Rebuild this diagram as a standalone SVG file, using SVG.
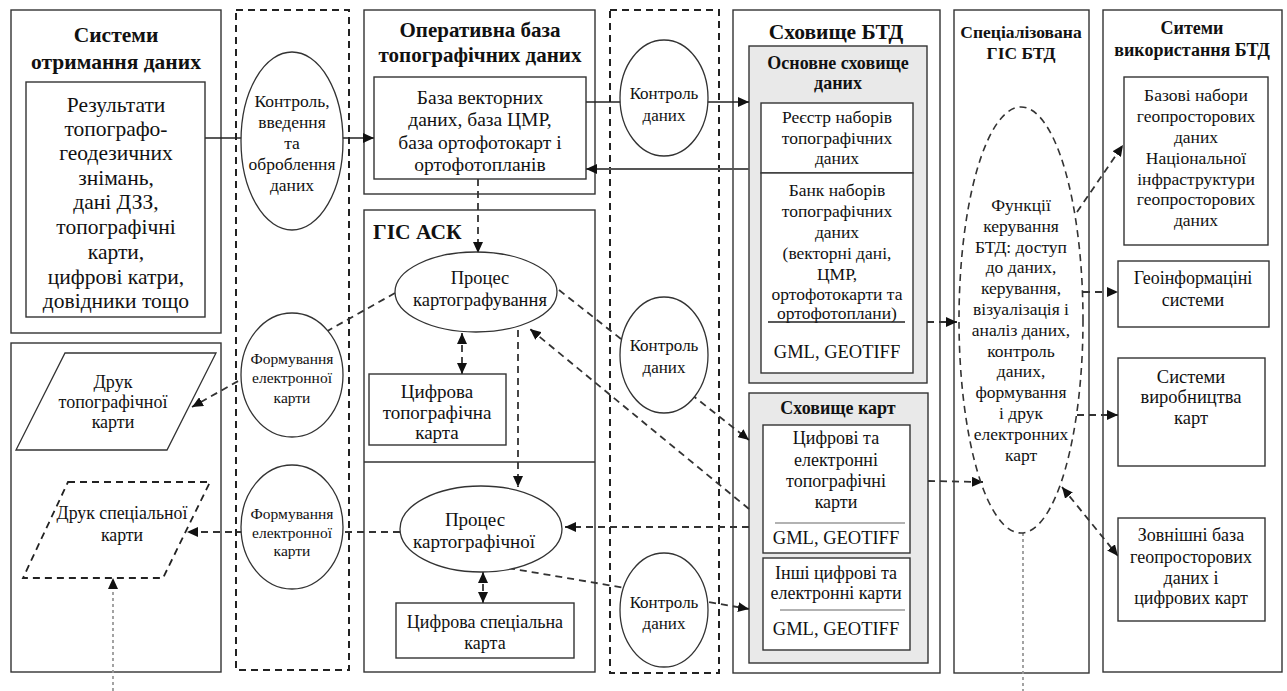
<svg xmlns="http://www.w3.org/2000/svg" width="1287" height="691" viewBox="0 0 1287 691" font-family="Liberation Serif, Times New Roman, DejaVu Serif, serif">
<defs>
<marker id="ah" markerUnits="userSpaceOnUse" markerWidth="11" markerHeight="10" refX="11" refY="5" orient="auto-start-reverse" viewBox="0 0 11 10"><path d="M0,0 L11,5 L0,10 z" fill="#111"/></marker>
<style>
text{fill:#111;text-anchor:middle;dominant-baseline:central}
.t{font-weight:bold}
.box{fill:#fff;stroke:#333;stroke-width:1.4}
.gray{fill:#e9e9e9;stroke:#333;stroke-width:1.4}
.col{fill:none;stroke:#222;stroke-width:2;stroke-dasharray:7,5}
.ell{fill:#fff;stroke:#333;stroke-width:1.3}
.s{stroke:#222;stroke-width:1.5;fill:none}
.sg{stroke:#555;stroke-width:2;fill:none}
.d{stroke:#333;stroke-width:1.8;fill:none;stroke-dasharray:7,5}
.dot{stroke:#999;stroke-width:1.8;fill:none;stroke-dasharray:3,3}
</style>
</defs>
<rect width="1287" height="691" fill="#fff"/>

<g id="containers">
<rect id="sys-acq" class="box" x="11" y="10" width="210" height="323"/>
<rect id="col1" class="col" x="236" y="10" width="113" height="660"/>
<rect id="oper-db" class="box" x="364" y="10" width="231" height="184"/>
<rect id="gis-ask" class="box" x="364" y="210" width="231" height="462"/>
<line x1="364" y1="462" x2="595" y2="462" stroke="#333" stroke-width="1.4"/>
<rect id="col2" class="col" x="610" y="10" width="109" height="663"/>
<rect id="storage-btd" class="box" x="733" y="10" width="207" height="663"/>
<rect id="main-storage" class="gray" x="749" y="46" width="178" height="337"/>
<rect id="map-storage" class="gray" x="749" y="393" width="179" height="270"/>
<rect id="spec-gis" class="box" x="954" y="10" width="135" height="663"/>
<rect id="usage-sys" class="box" x="1103" y="10" width="179" height="662"/>
<rect id="output-box" class="box" x="11" y="343" width="210" height="329"/>
</g>

<g id="connectors">
<line class="s" x1="205" y1="138" x2="374" y2="138" marker-end="url(#ah)"/>
<line class="s" x1="586" y1="102" x2="749" y2="102" marker-end="url(#ah)"/>
<line class="sg" x1="749" y1="169" x2="586" y2="169" marker-end="url(#ah)"/>
<line class="d" x1="478" y1="179" x2="478" y2="253" marker-end="url(#ah)"/>
<line class="d" x1="462" y1="333" x2="462" y2="374" marker-start="url(#ah)" marker-end="url(#ah)"/>
<line class="d" x1="518" y1="330" x2="518" y2="487" marker-end="url(#ah)"/>
<line class="d" x1="395" y1="293" x2="192" y2="407" marker-end="url(#ah)"/>
<line class="d" x1="559" y1="290" x2="749" y2="440" marker-end="url(#ah)"/>
<line class="d" x1="749" y1="509" x2="530" y2="329" marker-end="url(#ah)"/>
<line class="d" x1="749" y1="527" x2="565" y2="527" marker-end="url(#ah)"/>
<line class="d" x1="400" y1="532" x2="187" y2="532" marker-end="url(#ah)"/>
<line class="d" x1="483" y1="572" x2="483" y2="603" marker-start="url(#ah)" marker-end="url(#ah)"/>
<line class="d" x1="508" y1="568" x2="749" y2="609" marker-end="url(#ah)"/>
<line class="d" x1="927" y1="322" x2="957" y2="322" marker-end="url(#ah)"/>
<line class="d" x1="928" y1="481" x2="983" y2="482" marker-end="url(#ah)"/>
<line class="d" x1="1077" y1="212" x2="1123" y2="145" marker-end="url(#ah)"/>
<line class="d" x1="1083" y1="292" x2="1118" y2="292" marker-end="url(#ah)"/>
<line class="d" x1="1077" y1="415" x2="1118" y2="415" marker-end="url(#ah)"/>
<line class="d" x1="1062" y1="487" x2="1118" y2="556" marker-start="url(#ah)" marker-end="url(#ah)"/>
<line class="dot" x1="1023" y1="533" x2="1023" y2="691"/>
<line class="dot" x1="113" y1="691" x2="113" y2="578" marker-end="url(#ah)"/>
</g>

<g id="n-sys-title">
<text class="t" x="116" y="35" font-size="21.5">Системи</text>
<text class="t" x="116" y="62" font-size="21.5">отримання даних</text>
</g>
<g id="n-results">
<rect class="box" x="26" y="82" width="179" height="235"/>
<text x="116" y="105" font-size="21.5">Результати</text>
<text x="116" y="129" font-size="21.5">топографо-</text>
<text x="116" y="153" font-size="21.5">геодезичних</text>
<text x="116" y="178" font-size="21.5">знімань,</text>
<text x="116" y="202" font-size="21.5">дані ДЗЗ,</text>
<text x="116" y="227" font-size="21.5">топографічні</text>
<text x="116" y="252" font-size="21.5">карти,</text>
<text x="116" y="277" font-size="21.5">цифрові катри,</text>
<text x="116" y="301" font-size="21.5">довідники тощо</text>
</g>
<g id="n-control-input">
<ellipse class="ell" cx="292" cy="141" rx="51" ry="89"/>
<text x="292" y="101" font-size="17.5">Контроль,</text>
<text x="292" y="122" font-size="17.5">введення</text>
<text x="292" y="143" font-size="17.5">та</text>
<text x="292" y="164" font-size="17.5">оброблення</text>
<text x="292" y="185" font-size="17.5">даних</text>
</g>
<g id="n-oper-title">
<text class="t" x="480" y="30" font-size="21">Оперативна база</text>
<text class="t" x="480" y="55" font-size="21">топографічних даних</text>
</g>
<g id="n-vector-db">
<rect class="box" x="374" y="77" width="212" height="102"/>
<text x="480" y="97" font-size="19.5">База векторних</text>
<text x="480" y="119" font-size="19.5">даних, база ЦМР,</text>
<text x="480" y="142" font-size="19.5">база ортофотокарт і</text>
<text x="480" y="164" font-size="19.5">ортофотопланів</text>
</g>
<g id="n-control1">
<ellipse class="ell" cx="664" cy="98" rx="44" ry="58"/>
<text x="664" y="93" font-size="17">Контроль</text>
<text x="664" y="115" font-size="17">даних</text>
</g>
<g id="n-control2">
<ellipse class="ell" cx="664" cy="355" rx="44" ry="58"/>
<text x="664" y="345" font-size="17">Контроль</text>
<text x="664" y="367" font-size="17">даних</text>
</g>
<g id="n-control3">
<ellipse class="ell" cx="664" cy="610" rx="44" ry="57"/>
<text x="664" y="602" font-size="17">Контроль</text>
<text x="664" y="623" font-size="17">даних</text>
</g>
<g id="n-gis-ask-title">
<text class="t" x="373" y="232" font-size="21.5" style="text-anchor:start">ГІС АСК</text>
</g>
<g id="n-mapping">
<ellipse class="ell" cx="476" cy="292" rx="81" ry="40"/>
<text x="480" y="278" font-size="18.5">Процес</text>
<text x="480" y="300" font-size="18.5">картографування</text>
</g>
<g id="n-digital-topo">
<rect class="box" x="369" y="374" width="137" height="71"/>
<text x="437" y="391" font-size="19">Цифрова</text>
<text x="437" y="412" font-size="19">топографічна</text>
<text x="437" y="432" font-size="19">карта</text>
</g>
<g id="n-cartographic">
<ellipse class="ell" cx="481" cy="529" rx="81" ry="43"/>
<text x="475" y="519" font-size="19">Процес</text>
<text x="474" y="541" font-size="19">картографічної</text>
</g>
<g id="n-digital-special">
<rect class="box" x="396" y="603" width="178" height="55"/>
<text x="485" y="622" font-size="18">Цифрова спеціальна</text>
<text x="485" y="643" font-size="18">карта</text>
</g>
<g id="n-storage-title">
<text class="t" x="836" y="32" font-size="21.5">Сховище БТД</text>
<text class="t" x="838" y="63" font-size="18">Основне сховище</text>
<text class="t" x="838" y="83" font-size="18">даних</text>
</g>
<g id="n-registry">
<rect class="box" x="761" y="103" width="152" height="70"/>
<text x="837" y="117" font-size="17.5">Реєстр наборів</text>
<text x="837" y="138" font-size="17.5">топографічних</text>
<text x="837" y="158" font-size="17.5">даних</text>
</g>
<g id="n-bank">
<rect class="box" x="761" y="173" width="152" height="200"/>
<text x="837" y="190" font-size="17.5">Банк наборів</text>
<text x="837" y="211" font-size="17.5">топографічних</text>
<text x="837" y="232" font-size="17.5">даних</text>
<text x="837" y="253" font-size="17.5">(векторні дані,</text>
<text x="837" y="274" font-size="17.5">ЦМР,</text>
<text x="837" y="294" font-size="17.5">ортофотокарти та</text>
<text x="837" y="313" font-size="17.5">ортофотоплани)</text>
<line x1="768" y1="322" x2="905" y2="322" stroke="#222" stroke-width="1.3"/>
<text x="837" y="352" font-size="18.5">GML, GEOTIFF</text>
</g>
<g id="n-map-storage-title">
<text class="t" x="838" y="408" font-size="18">Сховище карт</text>
</g>
<g id="n-topo-maps">
<rect class="box" x="763" y="425" width="147" height="128"/>
<text x="836" y="438" font-size="18">Цифрові та</text>
<text x="836" y="460" font-size="18">електронні</text>
<text x="836" y="481" font-size="18">топографічні</text>
<text x="836" y="502" font-size="18">карти</text>
<line x1="775" y1="523" x2="905" y2="523" stroke="#999" stroke-width="1.3"/>
<text x="836" y="538" font-size="18.5">GML, GEOTIFF</text>
</g>
<g id="n-other-maps">
<rect class="box" x="763" y="558" width="147" height="92"/>
<text x="836" y="573" font-size="18">Інші цифрові та</text>
<text x="836" y="593" font-size="18">електронні карти</text>
<line x1="780" y1="610" x2="905" y2="610" stroke="#999" stroke-width="1.3"/>
<text x="836" y="629" font-size="18.5">GML, GEOTIFF</text>
</g>
<g id="n-spec-title">
<text class="t" x="1021" y="32" font-size="17.5">Спеціалізована</text>
<text class="t" x="1021" y="53" font-size="17.5">ГІС БТД</text>
</g>
<g id="n-functions">
<ellipse cx="1021" cy="320" rx="62" ry="213" fill="none" stroke="#333" stroke-width="1.6" stroke-dasharray="7,5"/>
<text x="1021" y="205" font-size="17.5">Функції</text>
<text x="1021" y="226" font-size="17.5">керування</text>
<text x="1021" y="247" font-size="17.5">БТД: доступ</text>
<text x="1021" y="267" font-size="17.5">до даних,</text>
<text x="1021" y="288" font-size="17.5">керування,</text>
<text x="1021" y="309" font-size="17.5">візуалізація і</text>
<text x="1021" y="330" font-size="17.5">аналіз даних,</text>
<text x="1021" y="351" font-size="17.5">контроль</text>
<text x="1021" y="371" font-size="17.5">даних,</text>
<text x="1021" y="392" font-size="17.5">формування</text>
<text x="1021" y="413" font-size="17.5">і друк</text>
<text x="1021" y="434" font-size="17.5">електронних</text>
<text x="1021" y="455" font-size="17.5">карт</text>
</g>
<g id="n-usage-title">
<text class="t" x="1192" y="28" font-size="18">Ситеми</text>
<text class="t" x="1192" y="50" font-size="18">використання БТД</text>
</g>
<g id="n-base-sets">
<rect class="box" x="1124" y="77" width="144" height="168"/>
<text x="1196" y="95" font-size="17.5">Базові набори</text>
<text x="1196" y="116" font-size="17.5">геопросторових</text>
<text x="1196" y="137" font-size="17.5">даних</text>
<text x="1196" y="158" font-size="17.5">Національної</text>
<text x="1196" y="179" font-size="17.5">інфраструктури</text>
<text x="1196" y="199" font-size="17.5">геопросторових</text>
<text x="1196" y="220" font-size="17.5">даних</text>
</g>
<g id="n-gis">
<rect class="box" x="1118" y="261" width="151" height="66"/>
<text x="1193" y="278" font-size="18">Геоінформаціні</text>
<text x="1193" y="300" font-size="18">системи</text>
</g>
<g id="n-map-prod">
<rect class="box" x="1118" y="358" width="147" height="108"/>
<text x="1191" y="377" font-size="18.5">Системи</text>
<text x="1191" y="397" font-size="18.5">виробництва</text>
<text x="1191" y="418" font-size="18.5">карт</text>
</g>
<g id="n-external">
<rect class="box" x="1118" y="518" width="147" height="103"/>
<text x="1191" y="535" font-size="18">Зовнішні база</text>
<text x="1191" y="557" font-size="18">геопросторових</text>
<text x="1191" y="578" font-size="18">даних і</text>
<text x="1191" y="598" font-size="18">цифрових карт</text>
</g>
<g id="n-form1">
<ellipse class="ell" cx="292" cy="375" rx="51" ry="62"/>
<text x="292" y="358" font-size="15.5">Формування</text>
<text x="292" y="377" font-size="15.5">електронної</text>
<text x="292" y="397" font-size="15.5">карти</text>
</g>
<g id="n-form2">
<ellipse class="ell" cx="292" cy="527" rx="51" ry="62"/>
<text x="292" y="513" font-size="15.5">Формування</text>
<text x="292" y="532" font-size="15.5">електронної</text>
<text x="292" y="550" font-size="15.5">карти</text>
</g>
<g id="n-print-topo">
<polygon points="65,353 216,353 167,450 16,450" fill="#fff" stroke="#333" stroke-width="1.3"/>
<text x="113" y="382" font-size="18">Друк</text>
<text x="113" y="402" font-size="18">топографічної</text>
<text x="113" y="422" font-size="18">карти</text>
</g>
<g id="n-print-special">
<polygon points="68,482 210,482 163,578 23,578" fill="none" stroke="#222" stroke-width="1.8" stroke-dasharray="7,5"/>
<text x="122" y="513" font-size="17.8">Друк спеціальної</text>
<text x="122" y="535" font-size="17.8">карти</text>
</g>
</svg>
